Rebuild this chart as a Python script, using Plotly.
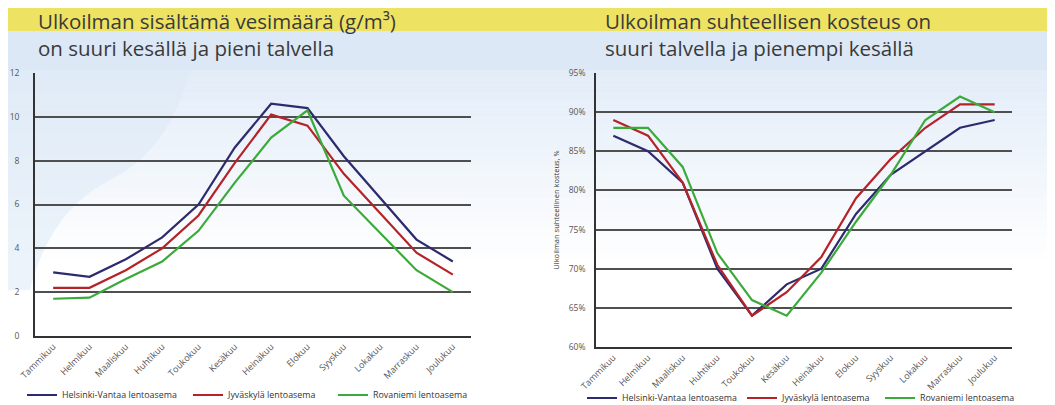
import plotly.graph_objects as go

months = ["Tammikuu", "Helmikuu", "Maaliskuu", "Huhtikuu", "Toukokuu", "Kesäkuu",
          "Heinäkuu", "Elokuu", "Syyskuu", "Lokakuu", "Marraskuu", "Joulukuu"]
series_names = ["Helsinki-Vantaa lentoasema", "Jyväskylä lentoasema", "Rovaniemi lentoasema"]
series_colors = ["#2E2A6E", "#B52228", "#3BAA3B"]

# Water content g/m3
water_helsinki = [2.9, 2.7, 3.5, 4.5, 6.0, 8.6, 10.6, 10.4, 8.2, 6.3, 4.4, 3.4]
water_jyvaskyla = [2.2, 2.2, 3.0, 4.0, 5.5, 7.9, 10.1, 9.6, 7.4, 5.6, 3.8, 2.8]
water_rovaniemi = [1.7, 1.75, 2.6, 3.4, 4.8, 7.0, 9.05, 10.3, 6.4, 4.7, 3.0, 2.0]

# Relative humidity %
rh_helsinki = [87, 85, 81, 70, 64, 68, 70, 77, 82, 85, 88, 89]
rh_jyvaskyla = [89, 87, 81, 70.5, 64, 67, 71.5, 79, 84, 88, 91, 91]
rh_rovaniemi = [88, 88, 83, 72, 66, 64, 69.5, 76, 82, 89, 92, 90]

left_ticks = [0, 2, 4, 6, 8, 10, 12]
right_ticks = [60, 65, 70, 75, 80, 85, 90, 95]
right_tick_text = [f"{v}%" for v in right_ticks]

W, H = 1055, 405
OFF = 8  # page body margin offset
def px(x): return (x - OFF) / W
def py(y): return 1 - (y - OFF) / H

# legend item positions (page px): left charts / right chart
left_leg_x = [22, 188, 333]
right_leg_x = [582, 742, 880]
left_leg_y, right_leg_y = 395, 398

fig = go.Figure()

leg_ids = []
for k in range(6):
    leg_ids.append("legend" if k == 0 else f"legend{k + 1}")

for i, (name, col, vals) in enumerate(zip(series_names, series_colors,
                                          [water_helsinki, water_jyvaskyla, water_rovaniemi])):
    fig.add_trace(go.Scatter(x=months, y=vals, mode="lines", name=name,
                             line=dict(color=col, width=2.2), xaxis="x", yaxis="y",
                             legend=leg_ids[i]))
for i, (name, col, vals) in enumerate(zip(series_names, series_colors,
                                          [rh_helsinki, rh_jyvaskyla, rh_rovaniemi])):
    fig.add_trace(go.Scatter(x=months, y=vals, mode="lines", name=name,
                             line=dict(color=col, width=2.2), xaxis="x2", yaxis="y2",
                             legend=leg_ids[3 + i]))

shapes = []
n = 24
top, bottom = 70, 260
for i in range(n):
    y0 = top + (bottom - top) * i / n
    y1 = top + (bottom - top) * (i + 1) / n
    op = 0.8 * (1 - i / n)
    shapes.append(dict(type="rect", xref="paper", yref="paper", x0=0, x1=1,
                       y0=py(y1), y1=py(y0), fillcolor="#DCE8F6", opacity=op,
                       line=dict(width=0), layer="below"))
shapes.append(dict(type="path", xref="paper", yref="paper",
                   path="M %f %f L %f %f Q %f %f %f %f Q %f %f %f %f L %f %f Z" % (
                       px(8), py(70), px(190), py(70),
                       px(170), py(150), px(110), py(180),
                       px(50), py(210), px(30), py(290),
                       px(8), py(290)),
                   fillcolor="#DCE9F6", opacity=0.55, line=dict(width=0), layer="below"))
shapes.append(dict(type="rect", xref="paper", yref="paper", x0=0, x1=1,
                   y0=py(70), y1=py(31), fillcolor="#DCE8F6", line=dict(width=0),
                   layer="below"))
shapes.append(dict(type="rect", xref="paper", yref="paper", x0=0, x1=1,
                   y0=py(31), y1=py(8), fillcolor="#EEE262", line=dict(width=0),
                   layer="below"))

title_font = dict(family="Open Sans", size=20.5, color="#3A3A3A")
annotations = [
    dict(text="Ulkoilman sisältämä vesimäärä (g/m³)<br>on suuri kesällä ja pieni talvella",
         x=px(36), y=py(34), xref="paper", yref="paper", xanchor="left", yanchor="middle",
         align="left", showarrow=False, font=title_font),
    dict(text="Ulkoilman suhteellisen kosteus on<br>suuri talvella ja pienempi kesällä",
         x=px(603), y=py(34), xref="paper", yref="paper", xanchor="left", yanchor="middle",
         align="left", showarrow=False, font=title_font),
]

tick_font = dict(family="Open Sans", size=8.5, color="#555555")
xtick_font = dict(family="Open Sans", size=9, color="#555555")
grid = dict(showgrid=True, gridcolor="#4F4F4F", gridwidth=1.7)
common_x = dict(type="category", tickangle=-45, tickfont=xtick_font, showgrid=False,
                showline=True, linecolor="#333333", linewidth=1.7, ticks="",
                range=[-0.5, 11.5], fixedrange=True, automargin=False)

legend_font = dict(family="Open Sans", size=8.9, color="#333333")
legends = {}
for k in range(6):
    xpos = left_leg_x[k] if k < 3 else right_leg_x[k - 3]
    ypos = left_leg_y if k < 3 else right_leg_y
    legends[leg_ids[k]] = dict(orientation="h", x=px(xpos), y=py(ypos), xanchor="left",
                               yanchor="middle", font=legend_font, bgcolor="rgba(0,0,0,0)",
                               itemwidth=30)

fig.update_layout(
    width=W, height=H,
    margin=dict(l=0, r=0, t=0, b=0, autoexpand=False),
    paper_bgcolor="white", plot_bgcolor="rgba(0,0,0,0)",
    shapes=shapes, annotations=annotations,
    xaxis=dict(domain=[px(35), px(471)], anchor="y", **common_x),
    yaxis=dict(domain=[py(336), py(73)], anchor="x", range=[0, 12], tickvals=left_ticks,
               tickfont=tick_font, showline=True, linecolor="#333333", linewidth=1.7,
               zeroline=False, ticklabelstandoff=12, automargin=False, **grid),
    xaxis2=dict(domain=[px(596), px(1012)], anchor="y2", **common_x),
    yaxis2=dict(domain=[py(347), py(73)], anchor="x2", range=[60, 95], tickvals=right_ticks,
                ticktext=right_tick_text, tickfont=tick_font, showline=True,
                linecolor="#333333", linewidth=1.7, zeroline=False, ticklabelstandoff=7,
                automargin=False,
                title=dict(text="Ulkoilman suhteellinen kosteus, %",
                           font=dict(family="Open Sans", size=7.5, color="#333333"),
                           standoff=8),
                **grid),
    showlegend=True,
    **legends,
)

fig.write_html("out.html")
